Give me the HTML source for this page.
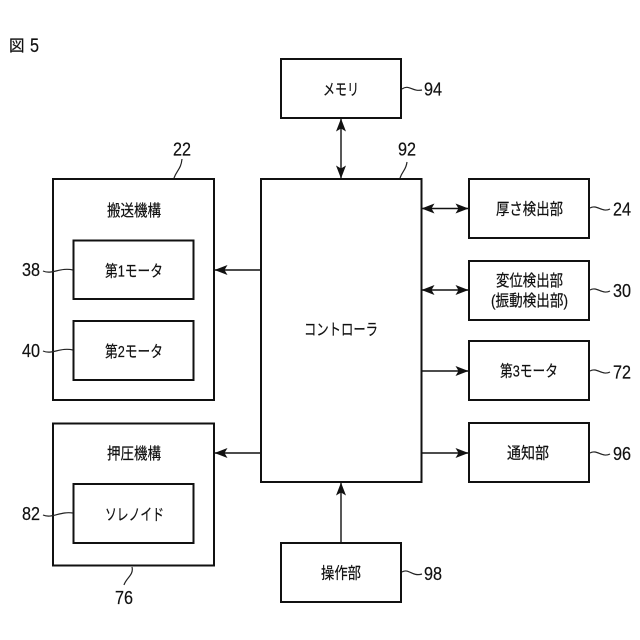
<!DOCTYPE html>
<html><head><meta charset="utf-8"><style>
html,body{margin:0;padding:0;background:#fff}
svg{display:block}
text{font-family:"Liberation Sans","Noto Sans CJK JP",sans-serif;fill:#111;stroke:#111;stroke-width:.2}
.l{font-size:16px;text-anchor:middle}
.n{font-size:18.5px;text-anchor:middle}
rect{fill:none;stroke:#111;stroke-width:2}
.c{fill:none;stroke:#222;stroke-width:1.2}
.a{fill:none;stroke:#111;stroke-width:1.4}
</style></head><body>
<svg width="640" height="640" viewBox="0 0 640 640" xmlns="http://www.w3.org/2000/svg">
<defs>
<marker id="h" viewBox="0 0 13 10" refX="12.500" refY="5" markerWidth="13" markerHeight="10" markerUnits="userSpaceOnUse" orient="auto-start-reverse"><path d="M0 0L13 5L0 10L3 5Z" fill="#111"/></marker>
</defs>
<text x="9" y="51" style="font-size:15.500px">図</text>
<text x="30" y="52" style="font-size:19px" textLength="9" lengthAdjust="spacingAndGlyphs">5</text>

<rect x="281" y="59" width="120" height="59"/>
<rect x="261" y="179" width="160.500" height="303"/>
<rect x="53" y="179" width="161" height="221"/>
<rect x="73.500" y="240.500" width="120" height="58.500"/>
<rect x="73.500" y="321" width="120" height="59"/>
<rect x="53" y="423.500" width="161" height="142"/>
<rect x="73.500" y="484" width="120" height="59"/>
<rect x="469" y="179" width="120" height="59"/>
<rect x="469" y="261" width="120" height="59"/>
<rect x="469" y="341" width="120" height="59"/>
<rect x="469" y="423" width="120" height="59"/>
<rect x="281" y="543" width="120" height="59"/>

<line class="a" x1="341" y1="119" x2="341" y2="178" marker-start="url(#h)" marker-end="url(#h)"/>
<line class="a" x1="422" y1="208.500" x2="468" y2="208.500" marker-start="url(#h)" marker-end="url(#h)"/>
<line class="a" x1="422" y1="290" x2="468" y2="290" marker-start="url(#h)" marker-end="url(#h)"/>
<line class="a" x1="422" y1="371" x2="468" y2="371" marker-end="url(#h)"/>
<line class="a" x1="422" y1="453" x2="468" y2="453" marker-end="url(#h)"/>
<line class="a" x1="260" y1="270" x2="215" y2="270" marker-end="url(#h)"/>
<line class="a" x1="260" y1="453" x2="215" y2="453" marker-end="url(#h)"/>
<line class="a" x1="341" y1="542" x2="341" y2="483" marker-end="url(#h)"/>

<path class="c" d="M402 89C409 84 412 92 422 90"/>
<path class="c" d="M400 178C403 170 406 170 407 162"/>
<path class="c" d="M174 178C177 170 181 169 182 159"/>
<path class="c" d="M590 208C597 204 602 213 610 209"/>
<path class="c" d="M590 290C597 286 602 295 610 291"/>
<path class="c" d="M590 371C597 367 602 376 610 372"/>
<path class="c" d="M590 453C597 449 602 458 610 454"/>
<path class="c" d="M402 572C409 568 412 577 422 574"/>
<path class="c" d="M43 271C52 275 60 267 73 270"/>
<path class="c" d="M43 351C52 355 60 347 73 350"/>
<path class="c" d="M43 515C52 519 60 511 73 513"/>
<path class="c" d="M132 567C134 575 126 578 124 585"/>

<text class="l" x="341" y="95" textLength="36" lengthAdjust="spacingAndGlyphs">メモリ</text>
<text class="l" x="341" y="335" textLength="74" lengthAdjust="spacingAndGlyphs">コントローラ</text>
<text class="l" x="134" y="216" textLength="54" lengthAdjust="spacingAndGlyphs">搬送機構</text>
<text class="l" x="134" y="276.500" textLength="58" lengthAdjust="spacingAndGlyphs">第1モータ</text>
<text class="l" x="134" y="357" textLength="58" lengthAdjust="spacingAndGlyphs">第2モータ</text>
<text class="l" x="134" y="459" textLength="54" lengthAdjust="spacingAndGlyphs">押圧機構</text>
<text class="l" x="134.500" y="520" textLength="59" lengthAdjust="spacingAndGlyphs">ソレノイド</text>
<text class="l" x="529.500" y="214.500" textLength="67" lengthAdjust="spacingAndGlyphs">厚さ検出部</text>
<text class="l" x="529.500" y="286" textLength="67" lengthAdjust="spacingAndGlyphs">変位検出部</text>
<text class="l" x="529.500" y="306" textLength="77" lengthAdjust="spacingAndGlyphs">(振動検出部)</text>
<text class="l" x="529" y="376.500" textLength="58" lengthAdjust="spacingAndGlyphs">第3モータ</text>
<text class="l" x="528" y="458.500" textLength="42" lengthAdjust="spacingAndGlyphs">通知部</text>
<text class="l" x="341" y="578.500" textLength="40" lengthAdjust="spacingAndGlyphs">操作部</text>

<text class="n" x="433" y="95.500" textLength="18" lengthAdjust="spacingAndGlyphs">94</text>
<text class="n" x="407" y="155.500" textLength="18" lengthAdjust="spacingAndGlyphs">92</text>
<text class="n" x="182" y="155.500" textLength="18" lengthAdjust="spacingAndGlyphs">22</text>
<text class="n" x="622" y="215.500" textLength="18" lengthAdjust="spacingAndGlyphs">24</text>
<text class="n" x="622" y="297" textLength="18" lengthAdjust="spacingAndGlyphs">30</text>
<text class="n" x="622" y="378.500" textLength="18" lengthAdjust="spacingAndGlyphs">72</text>
<text class="n" x="622" y="460" textLength="18" lengthAdjust="spacingAndGlyphs">96</text>
<text class="n" x="433" y="580" textLength="18" lengthAdjust="spacingAndGlyphs">98</text>
<text class="n" x="31" y="276" textLength="18" lengthAdjust="spacingAndGlyphs">38</text>
<text class="n" x="31" y="357" textLength="18" lengthAdjust="spacingAndGlyphs">40</text>
<text class="n" x="31" y="520" textLength="18" lengthAdjust="spacingAndGlyphs">82</text>
<text class="n" x="124" y="604" textLength="18" lengthAdjust="spacingAndGlyphs">76</text>
</svg>
</body></html>
